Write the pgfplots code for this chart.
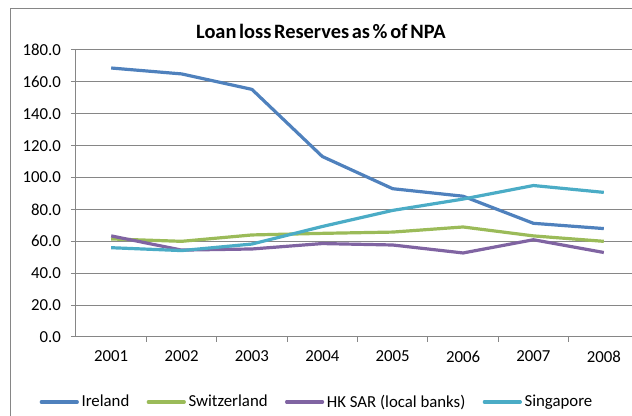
\documentclass[border=0pt]{standalone}
\usepackage{pgfplots}
\pgfplotsset{compat=1.18}
\usepackage{fontspec}
\setmainfont{Carlito}
\definecolor{cIre}{HTML}{4F81BD}
\definecolor{cSwi}{HTML}{9BBB59}
\definecolor{cHK}{HTML}{8064A2}
\definecolor{cSin}{HTML}{4BACC6}
\definecolor{gridc}{HTML}{868686}
\begin{document}
\begin{tikzpicture}
\begin{axis}[
  scale only axis,
  width=422.25pt, height=215.25pt,
  at={(0,0)}, anchor=south west,
  xmin=-0.5, xmax=7.5,
  ymin=0, ymax=180,
  ytick={0,20,...,180},
  xtick={0,...,7},
  xticklabels={2001,2002,2003,2004,2005,2006,2007,2008},
  minor x tick num=1,
  major x tick style={draw=none},
  minor x tick style={draw=gridc, line width=0.75pt},
  major y tick style={draw=gridc, line width=0.75pt},
  tick align=outside,
  major tick length=3.75pt,
  minor tick length=3.75pt,
  axis x line*=bottom,
  axis y line*=left,
  axis line style={draw=gridc, line width=0.75pt, -},
  ymajorgrids,
  major grid style={draw=gridc, line width=0.75pt},
  /pgf/number format/assume math mode=true,
  /pgf/number format/fixed,
  /pgf/number format/fixed zerofill,
  /pgf/number format/precision=1,
  tick label style={font=\fontsize{12.6pt}{15pt}\selectfont, text=black},
  yticklabel style={xshift=-4pt},
  xticklabel style={yshift=-3pt},
  title={\textbf{\spaceskip=0.13em Loan loss Reserves as \% of NPA}},
  title style={at={(0.435,1.037)}, anchor=center, font=\fontsize{15.3pt}{18pt}\selectfont},
  legend columns=4,
  legend style={at={(0.4287,-0.2265)}, anchor=center, draw=none, fill=none,
    font=\fontsize{12.6pt}{15pt}\selectfont,
    /tikz/every even column/.append style={column sep=11pt}},
  legend image code/.code={\draw[#1, line cap=round] (0pt,0pt) -- (27pt,0pt);},
  every axis plot/.append style={line width=2.4pt, line join=round, mark=none},
]
\addplot[color=cIre] coordinates {(0,168.7) (1,165) (2,155.3) (3,113.2) (4,93) (5,88.3) (6,71.3) (7,68)};
\addlegendentry{Ireland}
\addplot[color=cSwi] coordinates {(0,61.5) (1,60) (2,64) (3,65) (4,65.8) (5,69) (6,63.4) (7,60)};
\addlegendentry{Switzerland}
\addplot[color=cHK] coordinates {(0,63.4) (1,54.5) (2,55.2) (3,58.6) (4,57.7) (5,52.7) (6,61) (7,53)};
\addlegendentry{HK SAR (local banks)}
\addplot[color=cSin] coordinates {(0,56) (1,54.2) (2,58.3) (3,69.3) (4,79.4) (5,86.5) (6,95) (7,90.7)};
\addlegendentry{Singapore}
\end{axis}
\draw[gridc, line width=0.75pt] (-48.75pt,-65pt) rectangle (430pt,246pt);
\pgfresetboundingbox
\path[use as bounding box] (-57pt,-59.25pt) rectangle (417pt,252.75pt);
\end{tikzpicture}
\end{document}
